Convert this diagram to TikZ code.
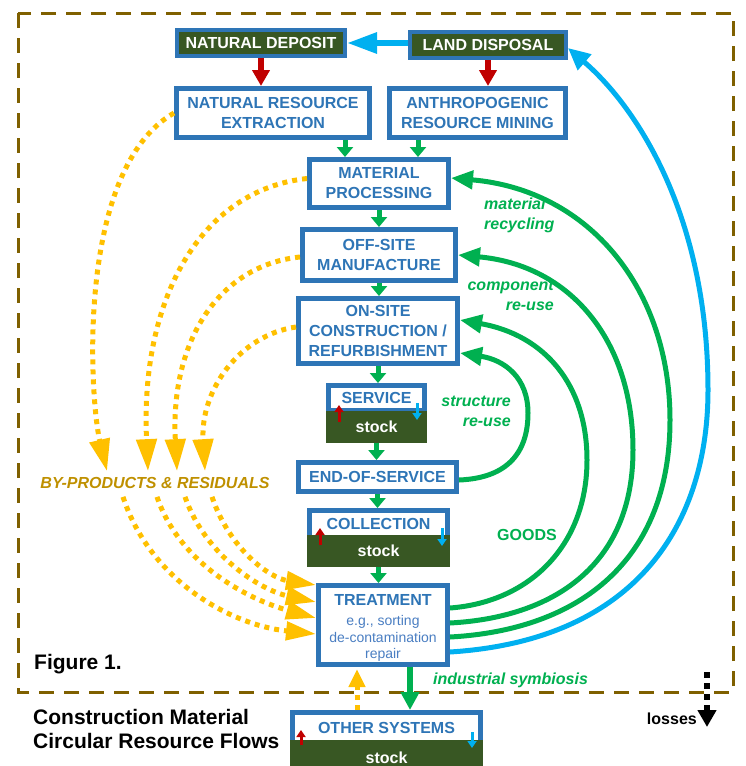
\documentclass[tikz,border=0pt]{standalone}
\usepackage{fontspec}
\setmainfont{Liberation Sans}
\usetikzlibrary{arrows.meta, positioning}

\definecolor{boxblue}{HTML}{2E75B6}
\definecolor{subblue}{HTML}{4A7EC2}
\definecolor{soilgreen}{HTML}{385723}
\definecolor{flowgreen}{HTML}{00B050}
\definecolor{skyblue}{HTML}{00B0F0}
\definecolor{darkred}{HTML}{C00000}
\definecolor{amber}{HTML}{FFC000}
\definecolor{ochre}{HTML}{BF9000}
\definecolor{frameolive}{HTML}{7F6000}

\newcommand{\stagefont}{\fontsize{16}{20}\selectfont\bfseries}
\newcommand{\notefont}{\fontsize{16}{20}\selectfont\bfseries\itshape}
\newcommand{\subfont}{\fontsize{14}{16.5}\selectfont}
\newcommand{\titlefont}{\fontsize{21}{24}\selectfont\bfseries}

\begin{document}
\begin{tikzpicture}[x=1pt, y=-1pt,
  stagebox/.style={draw=boxblue, line width=5pt, fill=white, text=boxblue, font=\stagefont, align=center, inner sep=1pt},
  depotbox/.style={draw=boxblue, line width=4pt, fill=soilgreen, text=white, font=\stagefont, inner sep=1pt},
  stockbox/.style={fill=soilgreen, text=white, font=\stagefont, inner sep=0pt, outer sep=0pt},
  note/.style={text=flowgreen, font=\notefont, inner sep=0pt},
  flow/.style={draw=flowgreen, line width=5pt, -{Triangle[length=10pt,width=16pt]}},
  reuse/.style={draw=flowgreen, line width=5pt, -{Triangle[length=22pt,width=18pt]}},
  landfill/.style={draw=skyblue, line width=5pt, -{Triangle[length=22pt,width=20pt]}},
  extract/.style={draw=darkred, line width=6pt, -{Triangle[length=16pt,width=17pt]}},
  stockin/.style={draw=darkred, line width=3pt, -{Triangle[length=7pt,width=9pt]}},
  stockout/.style={draw=skyblue, line width=3pt, -{Triangle[length=7pt,width=9pt]}},
  residue/.style={draw=amber, line width=5pt, dash pattern=on 5pt off 5pt, -{Triangle[length=32pt,width=20pt]}},
  residue2/.style={draw=amber, line width=5pt, dash pattern=on 5pt off 5pt, -{Triangle[length=30pt,width=18pt]}},
  loss/.style={draw=black, line width=6pt, dash pattern=on 6pt off 5pt, -{Triangle[length=17pt,width=18pt]}}]
\useasboundingbox (0,0) rectangle (746,766);
\clip (0,0) rectangle (746,766);
% System boundary
\draw[frameolive, line width=3pt, dash pattern=on 15pt off 10pt] (18,13) rectangle (733,692);
% Labels
\node[note, anchor=west, align=left] (MatLabel) at (484,215) {material\\recycling};
\node[note, anchor=east, align=right] (CompLabel) at (554,295) {component\\re-use};
\node[note, anchor=east, align=right] (StructLabel) at (511,411) {structure\\re-use};
\node[note, font=\stagefont] (Goods) at (527,535) {GOODS};
\node[note, anchor=west] (Symbiosis) at (433,680) {industrial symbiosis};
\node[note, text=ochre] (ByProducts) at (155,483) {BY-PRODUCTS \& RESIDUALS};
\node[anchor=west, font=\titlefont, inner sep=0pt] (FigNo) at (34,664) {Figure 1.};
\node[anchor=west, align=left, font=\titlefont, inner sep=0pt] (Title) at (33,729) {Construction Material\\Circular Resource Flows};
\node[anchor=east, font=\stagefont, inner sep=0pt] (Losses) at (697,719) {losses};
% Sources
\node[depotbox, minimum width=168pt, minimum height=26pt] (Deposit) at (261,43) {NATURAL DEPOSIT};
\node[depotbox, minimum width=156pt, minimum height=26pt] (Disposal) at (488,45) {LAND DISPOSAL};
\node[stagebox, minimum width=193pt, minimum height=49pt] (Extraction) at (273,113) {NATURAL RESOURCE\\EXTRACTION};
\node[stagebox, minimum width=176pt, minimum height=49pt] (Mining) at (477.5,113) {ANTHROPOGENIC\\RESOURCE MINING};
% Sequence
\node[stagebox, minimum width=139pt, minimum height=48pt] (Processing) at (379,183.5) {MATERIAL\\PROCESSING};
\node[stagebox, minimum width=153pt, minimum height=51pt, below=17pt of Processing] (Manufacture) {OFF-SITE\\MANUFACTURE};
\node[stagebox, minimum width=159pt, minimum height=65pt, below=13pt of Manufacture, xshift=-1pt] (Construction) {ON-SITE\\CONSTRUCTION /\\REFURBISHMENT};
\node[stagebox, minimum width=96pt, minimum height=25pt, below=17pt of Construction, xshift=-1.5pt] (Service) {SERVICE};
\node[stockbox, minimum width=101pt, minimum height=32pt, anchor=north] (ServiceStock) at ([yshift=2pt]Service.south) {stock};
\node[stagebox, minimum width=158pt, minimum height=29pt, below=17pt of ServiceStock, xshift=1pt] (End) {END-OF-SERVICE};
\node[stagebox, minimum width=138pt, minimum height=27pt, below=14pt of End, xshift=1pt] (Collection) {COLLECTION};
\node[stockbox, minimum width=143pt, minimum height=32pt, anchor=north] (CollectionStock) at ([yshift=5pt]Collection.south) {stock};
\node[stagebox, minimum width=129pt, minimum height=79pt, below=16pt of CollectionStock, xshift=4.5pt, font=\subfont, text=subblue] (Treatment) {{\color{boxblue}\stagefont\rule{0pt}{17.5pt}TREATMENT}\\[3.5pt]e.g., sorting\\de-contamination\\repair};
\node[stagebox, minimum width=188pt, minimum height=30pt, below=43pt of Treatment, xshift=3.5pt] (Other) {OTHER SYSTEMS};
\node[stockbox, minimum width=193pt, minimum height=35pt, anchor=north] (OtherStock) at ([yshift=5pt]Other.south) {stock};
% Arrows
\draw[landfill, line width=6pt, -{Triangle[length=30pt,width=20pt]}] (Disposal.west |- Deposit.east) -- (Deposit.east);
\draw[extract] (Deposit.south) -- (Deposit.south |- Extraction.north);
\draw[extract] (Disposal.south) -- (Disposal.south |- Mining.north);
\draw[flow] ([xshift=-34pt]Processing.north |- Extraction.south) -- ([xshift=-34pt]Processing.north);
\draw[flow] ([xshift=39pt]Processing.north |- Mining.south) -- ([xshift=39pt]Processing.north);
\draw[flow] (Processing.south) -- (Processing.south |- Manufacture.north);
\draw[flow] (Manufacture.south) -- (Manufacture.south |- Construction.north);
\draw[flow] (Construction.south) -- (Construction.south |- Service.north);
\draw[flow] (ServiceStock.south) -- (ServiceStock.south |- End.north);
\draw[flow] (End.south) -- (End.south |- Collection.north);
\draw[flow] (CollectionStock.south) -- (CollectionStock.south |- Treatment.north);
\draw[flow, line width=6pt, -{Triangle[length=18pt,width=18pt]}] ([xshift=27pt]Treatment.south) -- ([xshift=27pt]Treatment.south |- Other.north);
\draw[residue, -{Triangle[length=18pt,width=16pt]}] ([xshift=-26pt]Treatment.south |- Other.north) -- ([xshift=-26pt,yshift=-2pt]Treatment.south);
% Stock in and out
\draw[stockin] ([xshift=13pt,yshift=-11pt]ServiceStock.north west) -- ([xshift=13pt,yshift=6pt]ServiceStock.north west);
\draw[stockout] ([xshift=-10pt,yshift=8pt]ServiceStock.north east) -- ([xshift=-10pt,yshift=-9pt]ServiceStock.north east);
\draw[stockin] ([xshift=13pt,yshift=-10pt]CollectionStock.north west) -- ([xshift=13pt,yshift=7pt]CollectionStock.north west);
\draw[stockout] ([xshift=-8pt,yshift=7pt]CollectionStock.north east) -- ([xshift=-8pt,yshift=-11pt]CollectionStock.north east);
\draw[stockin] ([xshift=11pt,yshift=-5pt]OtherStock.north west) -- ([xshift=11pt,yshift=10pt]OtherStock.north west);
\draw[stockout] ([xshift=-11pt,yshift=8pt]OtherStock.north east) -- ([xshift=-11pt,yshift=-8pt]OtherStock.north east);
% Loops back
\draw[landfill] ([yshift=-27pt]Treatment.east) .. controls (640,640) and (708,520) .. (708,390) .. controls (708,220) and (640,110) .. ([yshift=-3pt]Disposal.east);
\draw[reuse] ([yshift=-12pt]Treatment.east) .. controls (580,630) and (670,560) .. (670,420) .. controls (670,290) and (590,190) .. ([yshift=5.5pt]Processing.east);
\draw[reuse] ([yshift=2pt]Treatment.east) .. controls (560,617) and (633,560) .. (633,450) .. controls (633,340) and (570,265) .. (Manufacture.east);
\draw[reuse] ([yshift=17pt]Treatment.east) .. controls (530,602) and (587,545) .. (587,460) .. controls (587,385) and (545,335) .. ([yshift=11pt]Construction.east);
\draw[reuse] ([yshift=-3pt]End.east) .. controls (510,478) and (528,450) .. (528,413) .. controls (528,378) and (505,360) .. ([yshift=-22pt]Construction.east);
% By-products
\draw[residue] (Extraction.west) .. controls (75,170) and (90,400) .. ([xshift=-48pt,yshift=6pt]ByProducts.north);
\draw[residue] ([yshift=5pt]Processing.west) .. controls (200,190) and (140,300) .. ([xshift=-7pt,yshift=6pt]ByProducts.north);
\draw[residue] ([yshift=-2pt]Manufacture.west) .. controls (220,265) and (170,340) .. ([xshift=22pt,yshift=6pt]ByProducts.north);
\draw[residue] ([yshift=4pt]Construction.west) .. controls (240,335) and (200,390) .. ([xshift=50pt,yshift=6pt]ByProducts.north);
\draw[residue2] ([xshift=-32pt,yshift=-8pt]ByProducts.south) .. controls (150,580) and (230,625) .. ([yshift=-9pt]Treatment.west);
\draw[residue2] ([xshift=2pt,yshift=-8pt]ByProducts.south) .. controls (180,565) and (250,600) .. ([yshift=7pt]Treatment.west);
\draw[residue2] ([xshift=30pt,yshift=-8pt]ByProducts.south) .. controls (205,555) and (260,590) .. ([yshift=23pt]Treatment.west);
\draw[residue2] ([xshift=57pt,yshift=-8pt]ByProducts.south) .. controls (230,550) and (270,578) .. ([yshift=40pt]Treatment.west);
% Losses
\coordinate (LossStart) at (707,672);
\coordinate (LossEnd) at (707,727);
\draw[loss] (LossStart) -- (LossEnd);
\end{tikzpicture}
\end{document}
